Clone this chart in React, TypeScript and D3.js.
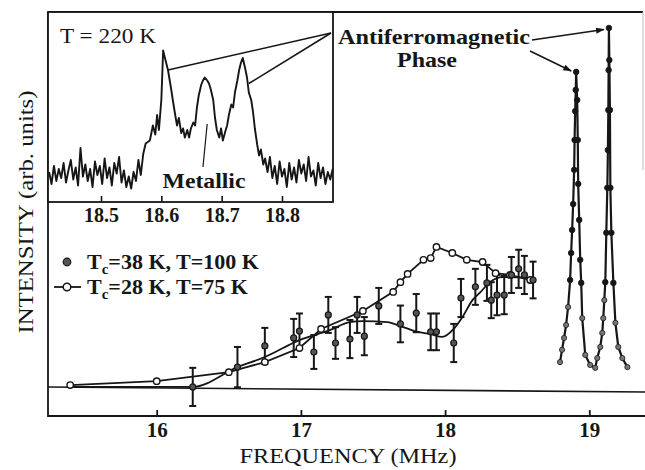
import React, { useEffect, useRef } from 'react';
import * as d3 from 'd3';

const W = 645;
const H = 470;
const FONT = '"Liberation Serif", "DejaVu Serif", serif';
const INK = '#161616';

// main panel ticks
const mainTicks = [16, 17, 18, 19];
const insetTicks = [18.5, 18.6, 18.7, 18.8];

// Tc=38 K, T=100 K : filled points with error bars
const filledFreq = [16.25, 16.56, 16.75, 16.95, 16.99, 17.09, 17.19, 17.24, 17.34, 17.39, 17.44, 17.54, 17.69, 17.80, 17.90, 17.94, 18.06, 18.11, 18.21, 18.29, 18.32, 18.36, 18.41, 18.46, 18.51, 18.55, 18.61];
const filledInt = [0.3, 5.8, 11.7, 13.9, 15.8, 10.0, 20.3, 12.5, 13.6, 20.3, 14.4, 22.8, 17.8, 20.8, 15.6, 15.6, 12.5, 25.0, 28.1, 29.2, 24.4, 25.8, 25.8, 31.4, 33.1, 31.4, 30.0];
const filledErr = [5.3, 5.6, 5.0, 5.3, 4.9, 4.7, 5.0, 4.4, 5.3, 5.0, 5.3, 5.0, 5.1, 5.3, 5.1, 5.1, 5.3, 5.3, 5.0, 5.0, 5.0, 5.6, 5.3, 5.0, 5.3, 5.3, 5.1];

// smooth curve drawn through the filled points
const fitFreq = [15.40, 16.25, 16.56, 16.75, 16.99, 17.20, 17.34, 17.43, 17.60, 17.69, 17.81, 17.90, 17.98, 18.06, 18.12, 18.19, 18.24, 18.31, 18.40, 18.59];
const fitInt = [0.3, 0.3, 5.8, 8.6, 13.3, 16.1, 18.3, 18.6, 18.3, 17.2, 15.6, 15.0, 14.2, 16.4, 19.7, 24.4, 26.4, 29.4, 30.8, 30.6];

// Tc=28 K, T=75 K : open circles
const openFreq = [15.40, 16.00, 16.50, 16.75, 16.99, 17.14, 17.43, 17.64, 17.69, 17.74, 17.85, 17.90, 17.94, 18.05, 18.15, 18.26, 18.35, 18.45, 18.59];
const openInt = [0.8, 1.9, 4.4, 7.2, 11.1, 16.4, 21.4, 26.7, 29.4, 31.7, 35.6, 36.1, 39.2, 37.5, 35.6, 35.0, 31.9, 31.4, 30.0];

// antiferromagnetic phase lines
const afmFreq = [18.797, 18.811, 18.825, 18.839, 18.853, 18.867, 18.874, 18.881, 18.888, 18.895, 18.898, 18.902, 18.906, 18.909, 18.916, 18.920, 18.923, 18.930, 18.937, 18.944, 18.951, 18.972, 19.006, 19.041, 19.055, 19.076, 19.090, 19.097, 19.104, 19.111, 19.118, 19.125, 19.129, 19.132, 19.134, 19.136, 19.139, 19.143, 19.146, 19.153, 19.167, 19.181, 19.201, 19.229, 19.264];
const afmInt = [7.2, 10.6, 13.9, 17.5, 22.5, 30.0, 37.5, 43.9, 51.1, 60.6, 68.9, 76.9, 82.8, 87.8, 80.0, 68.9, 56.7, 46.7, 35.6, 29.2, 19.4, 9.2, 6.4, 5.6, 8.3, 11.4, 15.3, 19.4, 24.4, 29.4, 43.1, 55.6, 66.1, 77.2, 88.3, 100, 91.1, 77.2, 55.6, 43.1, 29.2, 18.1, 11.4, 8.3, 5.8];

// inset: metallic spectrum at T = 220 K
const insetFreq = [
  18.414, 18.418, 18.422, 18.426, 18.430, 18.434, 18.438, 18.442, 18.446, 18.450,
  18.454, 18.458, 18.462, 18.466, 18.470, 18.474, 18.478, 18.482, 18.486, 18.490,
  18.494, 18.498, 18.502, 18.506, 18.510, 18.514, 18.518, 18.522, 18.526, 18.530,
  18.534, 18.538, 18.542, 18.546, 18.550, 18.554, 18.558, 18.562, 18.566, 18.570,
  18.574, 18.581, 18.586, 18.590, 18.593, 18.596, 18.600, 18.603, 18.606, 18.611,
  18.616, 18.619, 18.623, 18.626, 18.629, 18.633, 18.636, 18.639, 18.643, 18.646,
  18.649, 18.653, 18.656, 18.659, 18.662, 18.666, 18.669, 18.672, 18.676, 18.679,
  18.682, 18.686, 18.689, 18.692, 18.696, 18.699, 18.702, 18.706, 18.709, 18.712,
  18.716, 18.719, 18.722, 18.726, 18.729, 18.732, 18.735, 18.739, 18.742, 18.745,
  18.749, 18.752, 18.755, 18.759, 18.762, 18.765, 18.769, 18.772, 18.776, 18.780,
  18.784, 18.788, 18.792, 18.796, 18.800, 18.804, 18.808, 18.812, 18.816, 18.820,
  18.824, 18.828, 18.832, 18.836, 18.840, 18.844, 18.848, 18.852, 18.856, 18.860,
  18.864, 18.868, 18.872, 18.876, 18.880, 18.884,
];
const insetInt = [
  12, 4, 16, 6, 14, 8, 18, 5, 13, 20,
  7, 15, 3, 28, 9, 17, 6, 14, 2, 19,
  10, 16, 4, 21, 8, 15, 3, 18, 11, 22,
  5, 13, 2, 9, 1, 12, 6, 20, 10, 24,
  31, 33, 43, 37, 50, 40, 60, 93, 88, 80,
  68, 60, 50, 43, 48, 38, 41, 35, 40, 35,
  41, 45, 43, 55, 63, 70, 73, 75, 73, 71,
  67, 60, 48, 40, 35, 41, 33, 39, 43, 50,
  57, 55, 65, 73, 80, 85, 88, 81, 75, 65,
  60, 52, 41, 30, 23, 27, 17, 21, 12, 22,
  8, 16, 4, 19, 9, 14, 2, 18, 7, 15,
  5, 20, 11, 17, 6, 22, 9, 13, 3, 18,
  8, 15, 4, 12, 7, 14,
];

const App = () => {
  const ref = useRef<SVGSVGElement>(null);

  useEffect(() => {
    const svg = d3.select(ref.current);
    svg.selectAll('*').remove();

    const left = 48, top = 12, right = 643, bottom = 416;

    const x = d3.scaleLinear().domain([16, 19]).range([156.7, 589.3]);
    const y = d3.scaleLinear().domain([0, 100]).range([388, 28]);

    const defs = svg.append('defs');
    defs.append('marker')
      .attr('id', 'head')
      .attr('viewBox', '0 -4 10 8')
      .attr('refX', 9).attr('refY', 0)
      .attr('markerWidth', 9).attr('markerHeight', 7)
      .attr('markerUnits', 'userSpaceOnUse')
      .attr('orient', 'auto')
      .append('path').attr('d', 'M0,-3.5L10,0L0,3.5Z').attr('fill', INK);

    svg.append('rect').attr('width', W).attr('height', H).attr('fill', '#fff');

    // frame
    svg.append('path')
      .attr('d', `M${left},${top}H${right}M${left},${top}V${bottom}H${W}`)
      .attr('stroke', INK).attr('stroke-width', 1.8).attr('fill', 'none');
    svg.append('line')
      .attr('x1', right).attr('x2', right).attr('y1', top).attr('y2', 170)
      .attr('stroke', '#bbb').attr('stroke-width', 1);

    // zero line
    svg.append('line')
      .attr('x1', left).attr('x2', W)
      .attr('y1', y(0) - 1).attr('y2', y(0) + 4)
      .attr('stroke', INK).attr('stroke-width', 1.6);

    // bottom axis
    const xAxis = svg.append('g')
      .attr('transform', `translate(0, ${bottom})`)
      .call(d3.axisBottom(x).tickValues(mainTicks).tickSizeInner(-6).tickSizeOuter(0).tickFormat(d3.format('d')));
    xAxis.select('.domain').remove();
    xAxis.selectAll('line').attr('stroke', INK).attr('stroke-width', 1.8);
    xAxis.selectAll('text')
      .attr('y', 21).attr('dy', null)
      .attr('fill', INK)
      .style('font-family', FONT).style('font-size', '21px').style('font-weight', 'bold');

    svg.append('text')
      .attr('x', 348).attr('y', 463)
      .attr('text-anchor', 'middle')
      .attr('textLength', 217).attr('lengthAdjust', 'spacingAndGlyphs')
      .style('font-family', FONT).style('font-size', '21px')
      .attr('fill', INK)
      .text('FREQUENCY (MHz)');

    svg.append('text')
      .attr('transform', 'translate(33, 212) rotate(-90)')
      .attr('text-anchor', 'middle')
      .attr('textLength', 243).attr('lengthAdjust', 'spacingAndGlyphs')
      .style('font-family', FONT).style('font-size', '21px')
      .attr('fill', INK)
      .text('INTENSITY (arb. units)');

    // fit curve through the filled points
    const fit = fitFreq.map((f, i) => [f, fitInt[i]] as [number, number]);
    svg.append('path')
      .attr('d', d3.line().x(d => x(d[0])).y(d => y(d[1])).curve(d3.curveMonotoneX)(fit))
      .attr('fill', 'none').attr('stroke', INK).attr('stroke-width', 1.8);

    // open series
    const open = openFreq.map((f, i) => [f, openInt[i]] as [number, number]);
    svg.append('path')
      .attr('d', d3.line().x(d => x(d[0])).y(d => y(d[1]))(open))
      .attr('fill', 'none').attr('stroke', INK).attr('stroke-width', 1.8);

    // error bars
    const filled = filledFreq.map((f, i) => ({ f, v: filledInt[i], e: filledErr[i] }));
    const eb = svg.append('g').attr('stroke', INK).attr('stroke-width', 2);
    eb.selectAll('line.bar').data(filled).enter().append('line')
      .attr('class', 'bar')
      .attr('x1', d => x(d.f)).attr('x2', d => x(d.f))
      .attr('y1', d => y(d.v - d.e)).attr('y2', d => y(d.v + d.e));
    eb.selectAll('line.capt').data(filled).enter().append('line')
      .attr('class', 'capt')
      .attr('x1', d => x(d.f) - 3.5).attr('x2', d => x(d.f) + 3.5)
      .attr('y1', d => y(d.v + d.e)).attr('y2', d => y(d.v + d.e));
    eb.selectAll('line.capb').data(filled).enter().append('line')
      .attr('class', 'capb')
      .attr('x1', d => x(d.f) - 3.5).attr('x2', d => x(d.f) + 3.5)
      .attr('y1', d => y(d.v - d.e)).attr('y2', d => y(d.v - d.e));

    svg.append('g').selectAll('circle').data(open).enter().append('circle')
      .attr('cx', d => x(d[0])).attr('cy', d => y(d[1])).attr('r', 3.2)
      .attr('fill', '#fff').attr('stroke', INK).attr('stroke-width', 1.4);

    svg.append('g').selectAll('circle').data(filled).enter().append('circle')
      .attr('cx', d => x(d.f)).attr('cy', d => y(d.v)).attr('r', 3)
      .attr('fill', '#555').attr('stroke', INK).attr('stroke-width', 1.2);

    // antiferromagnetic lines
    const afm = afmFreq.map((f, i) => [f, afmInt[i]] as [number, number]);
    svg.append('path')
      .attr('d', d3.line().x(d => x(d[0])).y(d => y(d[1]))(afm))
      .attr('fill', 'none').attr('stroke', INK).attr('stroke-width', 2.2);
    svg.append('g').selectAll('circle').data(afm).enter().append('circle')
      .attr('cx', d => x(d[0])).attr('cy', d => y(d[1]))
      .attr('r', d => (d[1] < 25 ? 2.6 : 2.8))
      .attr('fill', d => (d[1] < 25 ? '#777' : INK))
      .attr('stroke', INK).attr('stroke-width', 0.8);

    // antiferromagnetic label and arrows
    const lbl = svg.append('g').attr('fill', INK)
      .style('font-family', FONT).style('font-size', '22px').style('font-weight', 'bold');
    lbl.append('text').attr('x', 434).attr('y', 44).attr('text-anchor', 'middle')
      .attr('textLength', 192).attr('lengthAdjust', 'spacingAndGlyphs')
      .text('Antiferromagnetic');
    lbl.append('text').attr('x', 427).attr('y', 67).attr('text-anchor', 'middle')
      .attr('textLength', 60).attr('lengthAdjust', 'spacingAndGlyphs')
      .text('Phase');

    const topR = afm[35], topL = afm[13];
    svg.append('line')
      .attr('x1', 532).attr('y1', 40)
      .attr('x2', x(topR[0]) - 5).attr('y2', y(topR[1]) + 1.5)
      .attr('stroke', INK).attr('stroke-width', 1.6).attr('marker-end', 'url(#head)');
    svg.append('line')
      .attr('x1', 530).attr('y1', 51)
      .attr('x2', x(topL[0]) - 5).attr('y2', y(topL[1]) - 1)
      .attr('stroke', INK).attr('stroke-width', 1.6).attr('marker-end', 'url(#head)');

    // legend
    const leg = svg.append('g').attr('fill', INK)
      .style('font-family', FONT).style('font-size', '22px').style('font-weight', 'bold');
    leg.append('circle').attr('cx', 67).attr('cy', 262).attr('r', 3.8)
      .attr('fill', '#555').attr('stroke', INK).attr('stroke-width', 1.2);
    leg.append('line').attr('x1', 54).attr('x2', 81).attr('y1', 287).attr('y2', 287)
      .attr('stroke', INK).attr('stroke-width', 1.8);
    leg.append('circle').attr('cx', 67).attr('cy', 287).attr('r', 3.8)
      .attr('fill', '#fff').attr('stroke', INK).attr('stroke-width', 1.5);
    const legRows = [
      { y: 269, rest: '=38 K, T=100 K' },
      { y: 294, rest: '=28 K, T=75 K' },
    ];
    legRows.forEach(r => {
      const t = leg.append('text').attr('x', 87).attr('y', r.y);
      t.append('tspan').text('T');
      t.append('tspan').attr('dy', 5).style('font-size', '15px').text('c');
      t.append('tspan').attr('dy', -5).text(r.rest);
    });

    // inset
    const iL = left, iT = top, iR = 333, iB = 202;
    const xi = d3.scaleLinear().domain([18.5, 18.8]).range([101, 282]);
    const yi = d3.scaleLinear().domain([0, 100]).range([190, 40]);
    const inset = svg.append('g');
    inset.append('rect').attr('x', iL).attr('y', iT).attr('width', iR - iL).attr('height', iB - iT)
      .attr('fill', '#fff').attr('stroke', INK).attr('stroke-width', 1.8);

    const iAxis = inset.append('g')
      .attr('transform', `translate(0, ${iB})`)
      .call(d3.axisBottom(xi).tickValues(insetTicks).tickSizeInner(-6).tickSizeOuter(0).tickFormat(d3.format('.1f')));
    iAxis.select('.domain').remove();
    iAxis.selectAll('line').attr('stroke', INK).attr('stroke-width', 1.6);
    iAxis.selectAll('text')
      .attr('y', 20).attr('dy', null).attr('fill', INK)
      .style('font-family', FONT).style('font-size', '20px').style('font-weight', 'bold');

    const spec = insetFreq.map((f, i) => [f, insetInt[i]] as [number, number]);
    inset.append('path')
      .attr('d', d3.line().x(d => xi(d[0])).y(d => yi(d[1]))(spec))
      .attr('fill', 'none').attr('stroke', INK).attr('stroke-width', 1.9)
      .attr('stroke-linejoin', 'round');

    inset.append('text').attr('x', 60).attr('y', 43)
      .attr('textLength', 96).attr('lengthAdjust', 'spacingAndGlyphs')
      .attr('fill', INK)
      .style('font-family', FONT).style('font-size', '21px')
      .text('T = 220 K');
    inset.append('text').attr('x', 204).attr('y', 188).attr('text-anchor', 'middle')
      .attr('textLength', 83).attr('lengthAdjust', 'spacingAndGlyphs')
      .attr('fill', INK)
      .style('font-family', FONT).style('font-size', '21px').style('font-weight', 'bold')
      .text('Metallic');
    inset.append('line')
      .attr('x1', xi(18.669)).attr('y1', 167).attr('x2', xi(18.676)).attr('y2', 124)
      .attr('stroke', INK).attr('stroke-width', 1.2);

    // arrows from the label to the inset peaks
    const pk1: [number, number] = [18.611, 80];
    const pk2: [number, number] = [18.745, 71];
    [pk1, pk2].forEach(p => {
      svg.append('line')
        .attr('x1', 331).attr('y1', 33)
        .attr('x2', xi(p[0])).attr('y2', yi(p[1]))
        .attr('stroke', INK).attr('stroke-width', 1.6);
    });
  }, []);

  return (
    <svg ref={ref} width={W} height={H}
      style={{ position: 'absolute', left: 0, top: 0, display: 'block' }} />
  );
};

export default App;
